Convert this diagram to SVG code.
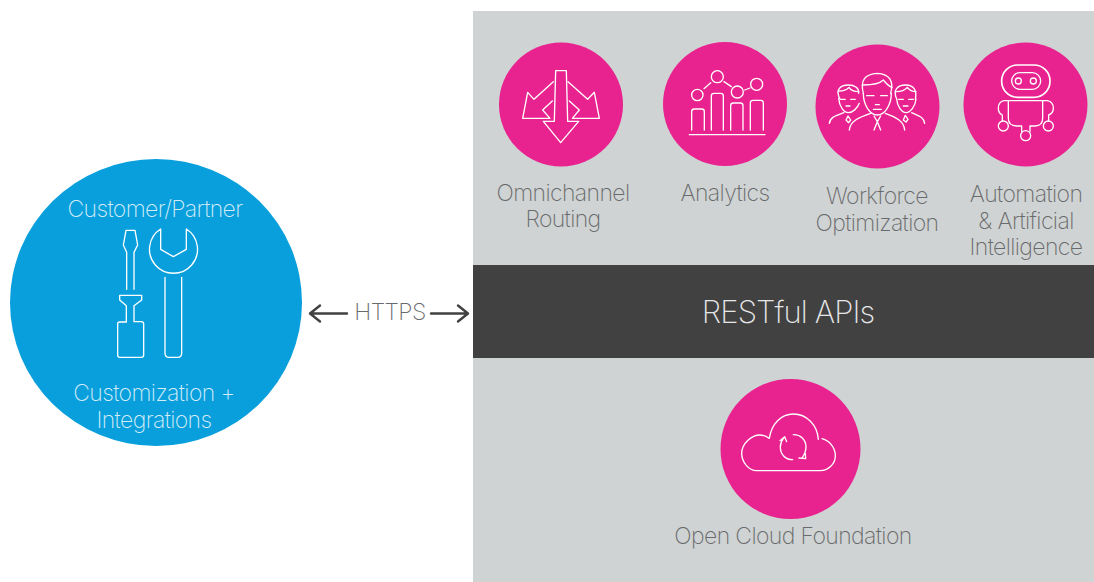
<svg xmlns="http://www.w3.org/2000/svg" width="1094" height="582" viewBox="0 0 1094 582">
<style>
text{font-family:"Inter","Liberation Sans",sans-serif;font-weight:200;text-anchor:middle;letter-spacing:-.62px}
.l{font-size:23px;fill:#696a6c}
.w{font-size:23px;fill:#d3ecf8}
.p{fill:#e8228f}
.i{fill:none;stroke:#fff;stroke-width:4;stroke-linejoin:round;stroke-linecap:round}
.c{fill:none;stroke:#414141;stroke-width:2.4;stroke-linecap:round;stroke-linejoin:round}
</style>
<rect x="0" y="0" width="1094" height="582" fill="#fff"/>
<g id="platform"><rect x="473" y="11" width="621" height="571" fill="#cfd3d3"/></g>
<g id="restful-apis"><rect x="473" y="265" width="621" height="93" fill="#414141"/>
<text x="788" y="323" style="font-size:31px;letter-spacing:-.9px;fill:#e6e7e8">RESTful APIs</text></g>

<g id="customer-partner">
<ellipse cx="156" cy="302.500" rx="146" ry="143.500" fill="#089fdc"/>
<text class="w" x="155" y="217">Customer/Partner</text>
<text class="w" x="154" y="401">Customization +</text>
<text class="w" x="154" y="428">Integrations</text>
<g transform="translate(90 190) scale(.33333)" class="i">
<path d="M108,121H135L143,165L132,187V298M108,121L100,165L110,187V298"/>
<path d="M89,316H155V330L132,347V395H154Q161,395 161,402V495Q161,502 154,502H90Q83,502 83,495V402Q83,396 89,396H109V347L89,330Z"/>
<path d="M212,117V178L250,200L289,178V117A72,72 0 1 1 212,117Z"/>
<path d="M225,262V490Q225,502 237,502H263Q275,502 275,490V262"/>
</g></g>

<g id="omnichannel-routing">
<circle class="p" cx="561" cy="104.500" r="62"/>
<g transform="translate(490 30) scale(.33333)" class="i">
<path d="M197,122H229L233,274H266L212,338L160,274H193Z"/>
<path d="M190,155L132,208L113,187L98,265H180L158,240L187,213"/>
<path d="M234,155L293,208L313,187L328,265H247L268,240L238,213"/>
</g>
<text class="l" x="563" y="201">Omnichannel</text>
<text class="l" x="563" y="227">Routing</text>
</g>

<g id="analytics">
<circle class="p" cx="725" cy="104" r="62"/>
<g transform="translate(490 30) scale(.33333)" class="i">
<circle cx="622" cy="195" r="17"/><circle cx="682" cy="140" r="18"/><circle cx="742" cy="186" r="18"/><circle cx="800" cy="163" r="18"/>
<path d="M642,176L662,158M702,155L724,170M764,180L780,174"/>
<path d="M605,300V245Q605,237 613,237H635Q643,237 643,245V300"/>
<path d="M664,300V198Q664,190 672,190H692Q700,190 700,198V300"/>
<path d="M722,300V227Q722,219 730,219H751Q759,219 759,227V300"/>
<path d="M781,300V219Q781,211 789,211H812Q820,211 820,219V300"/>
<path d="M598,314H825"/>
</g>
<text class="l" x="725" y="201">Analytics</text>
</g>

<g id="workforce-optimization">
<circle class="p" cx="877.500" cy="106.500" r="62"/>
<g transform="translate(800 30) scale(.33333)" class="i">
<path d="M190,190C180,150 195,132 232,130C270,132 282,155 272,190"/>
<path d="M190,165C215,165 240,160 250,150C258,160 268,170 276,172"/>
<path d="M190,190C190,225 210,255 232,255C254,255 274,225 274,190"/>
<path d="M200,197H222M242,197H262M226,224H238M220,238H244"/>
<path d="M148,300C150,275 175,262 212,250M314,300C312,275 290,262 256,250"/>
<path d="M222,258L232,275L242,258M232,275L222,300M232,275L242,300"/>
<path d="M120,207C105,180 120,165 145,165C165,165 178,175 176,190"/>
<path d="M116,183C130,183 140,180 147,172C152,180 165,185 176,185"/>
<path d="M116,205C118,230 132,248 145,248C158,248 172,235 178,220"/>
<path d="M122,208H136M152,208H166M138,228H150"/>
<path d="M88,280C90,262 105,258 132,248M144,258L138,270L146,278L152,270Z"/>
<path d="M290,207C278,180 292,165 317,165C340,165 352,180 346,207"/>
<path d="M290,185C305,185 315,180 322,172C328,180 338,185 348,185"/>
<path d="M290,207C292,230 305,248 318,248C331,248 346,230 348,207"/>
<path d="M296,208H310M326,208H340M310,228H324"/>
<path d="M374,280C372,262 358,258 335,248M316,256L310,270L318,276L324,268Z"/>
</g>
<text class="l" x="877" y="204">Workforce</text>
<text class="l" x="877" y="231">Optimization</text>
</g>

<g id="automation-ai">
<circle class="p" cx="1025.500" cy="104.500" r="62"/>
<g transform="translate(800 30) scale(.33333)" class="i">
<rect x="605" y="105" width="145" height="97" rx="48" ry="48" stroke-width="5"/>
<rect x="635" y="128" width="87" height="50" rx="25"/>
<circle cx="655" cy="153" r="9"/><circle cx="700" cy="153" r="9"/>
<path d="M625,212H728V265Q728,288 705,288H690V305M625,212V265Q625,288 650,288H665V305"/>
<circle cx="677" cy="317" r="15"/>
<path d="M625,212H612Q595,215 595,235Q595,250 607,255V273"/>
<circle cx="610" cy="288" r="15"/>
<path d="M728,212H742Q760,215 760,235Q760,250 746,255V273"/>
<circle cx="745" cy="288" r="15"/>
</g>
<text class="l" x="1026" y="202">Automation</text>
<text class="l" x="1026" y="229">&amp; Artificial</text>
<text class="l" x="1026" y="255">Intelligence</text>
</g>

<g id="open-cloud-foundation">
<circle class="p" cx="790.500" cy="449" r="70"/>
<g transform="translate(710 390) scale(.33333)" class="i">
<path d="M140,242C115,242 95,215 95,190C95,160 125,135 150,135C160,135 170,140 178,145C185,100 215,72 250,72C290,72 322,105 325,148M336,146C360,152 376,175 376,197C376,222 355,242 330,242H140"/>
<path d="M248,209C225,209 211,192 211,171C211,160 215,151 222,142M210,152L224,140L230,155"/>
<path d="M250,134C273,134 288,150 288,171C288,182 284,192 277,203M267,204L287,206L286,190"/>
</g>
<text class="l" x="793" y="544">Open Cloud Foundation</text>
</g>

<g id="connectors">
<path class="c" d="M347,313.500H311M320,305.500L310,313.500L320,321.500"/>
<path class="c" d="M431,313.500H467M458,305.500L468,313.500L458,321.500"/>
</g>
<text class="l" x="390" y="320" style="letter-spacing:-.6px">HTTPS</text>
</svg>
